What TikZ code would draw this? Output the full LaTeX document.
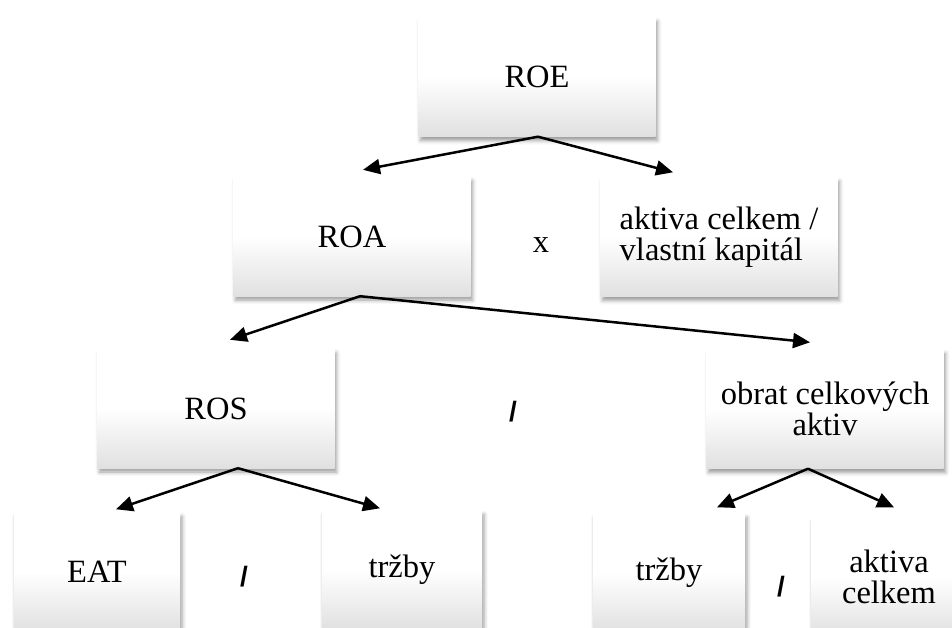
\documentclass[tikz,border=0pt]{standalone}
\usepackage{fontspec}
\setmainfont{Liberation Serif}
\newfontfamily\slashfont{Liberation Sans}
\usetikzlibrary{arrows.meta,shadows.blur}

\begin{document}
\begin{tikzpicture}[x=1pt,y=1pt,
    box/.style={minimum width=#1, minimum height=119pt, inner sep=0pt, align=center,
        top color=white, bottom color=black!12, middle color=white,
        blur shadow={shadow xshift=2pt, shadow yshift=-4pt, shadow blur radius=4pt, shadow opacity=40},
        font=\fontsize{32.5}{31}\selectfont},
    box/.default=237pt,
    op/.style={font=\fontsize{32.5}{31}\selectfont},
    sl/.style={font=\slashfont\bfseries\fontsize{28}{28}\selectfont},
    arr/.style={line width=2.5pt, -{Triangle[length=17pt,width=15pt]}}]
\path[use as bounding box] (0,0) rectangle (952,-628);
\clip (0,0) rectangle (952,-628);

% ukazatele
\node[box] (roe) at (537,-77) {ROE};
\node[box] (roa) at (352,-236.5) {ROA};
\node[box, align=left] (akvk) at (719,-237) {aktiva celkem /\\vlastní kapitál};
\node[box] (ros) at (216,-408.5) {ROS};
\node[box] (obrat) at (825,-409) {obrat celkových\\aktiv};
\node[box=166pt] (eat) at (97,-572) {EAT};
\node[box=160pt] (trzby) at (402,-570) {tržby};
\node[box=152pt] (trzbyb) at (669,-573) {tržby};
\node[box=156pt] (aktiva) at (889,-577) {aktiva\\celkem};

% operace mezi ukazateli
\node[op] (krat) at (541,-245) {x};
\node[sl] (del1) at (513,-412) {/};
\node[sl] (del2) at (244,-577) {/};
\node[sl] (del3) at (781,-587) {/};

% rozklad
\foreach \a/\b/\sx/\tx/\ty in {roe/roa/1/11/7, roe/akvk/1/-46/5, roa/ros/8/14/9, roa/obrat/8/-15/7,
        ros/eat/22/19/3, ros/trzby/22/-22/2, obrat/trzbyb/-17/48/6, obrat/aktiva/-17/5/10}
    \draw[arr] ([xshift=\sx pt]\a.south) -- ([xshift=\tx pt,yshift=\ty pt]\b.north);
\end{tikzpicture}
\end{document}
